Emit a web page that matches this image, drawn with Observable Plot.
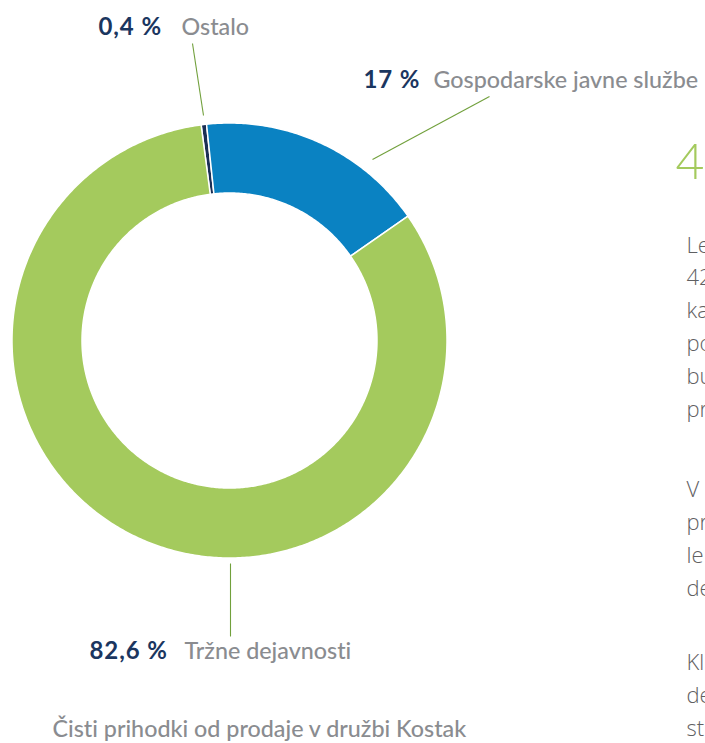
<!DOCTYPE html>
<html><head><meta charset="utf-8">
<script src="https://cdn.jsdelivr.net/npm/d3@7"></script>
<script src="https://cdn.jsdelivr.net/npm/@observablehq/plot@0.6"></script>
<style>html,body{margin:0;padding:0;background:#fff;overflow:hidden} svg text{font-variant-ligatures:none;font-feature-settings:"liga" 0,"clig" 0}</style>
</head><body><div id="chart"></div>
<script>
// ---- data ----
const categories = ["Ostalo", "Gospodarske javne službe", "Tržne dejavnosti"];
const shares = [0.4, 17, 82.6];
const shareLabels = ["0,4 %", "17 %", "82,6 %"];
const caption = "Čisti prihodki od prodaje v družbi Kostak";
const sideHeading = "4";
const sideLines = ["Le", "42", "ka", "po", "bu", "pr", "V", "pr", "le", "de", "Kl", "de", "st"];

// ---- styling / layout ----
const sliceColors = ["#1b2f55", "#0a82c2", "#a4ca5d"];
const W = 705, H = 743;
const cx = 229, cy = 340, rOuter = 217.5, rInner = 147.5;
const startDeg = -7.5;
const labelLayout = [
  {numX: 98, nameX: 181, y: 27, l: [192, 43, 203, 115]},
  {numX: 363, nameX: 433, y: 80, l: [489, 96, 372, 159]},
  {numX: 89, nameX: 184, y: 651, l: [230, 563, 230, 636]}
];
const sideY = [245, 277, 310, 343, 376, 409, 489, 522, 555, 588, 662, 695, 728];

const pie = d3.pie().sort(null).value(d => d.value)
  .startAngle(startDeg * Math.PI / 180).endAngle(startDeg * Math.PI / 180 + 2 * Math.PI);
const arcs = pie(categories.map((c, i) => ({name: c, value: shares[i]})));
const pts = [];
for (const a of arcs) {
  const n = Math.max(4, Math.ceil((a.endAngle - a.startAngle) / 0.01));
  const ring = [];
  for (let k = 0; k <= n; k++) {
    const t = a.startAngle + (a.endAngle - a.startAngle) * k / n;
    ring.push([cx + rOuter * Math.sin(t), cy - rOuter * Math.cos(t)]);
  }
  for (let k = n; k >= 0; k--) {
    const t = a.startAngle + (a.endAngle - a.startAngle) * k / n;
    ring.push([cx + rInner * Math.sin(t), cy - rInner * Math.cos(t)]);
  }
  ring.push(ring[0]);
  for (const p of ring) pts.push({name: a.data.name, x: p[0], y: p[1]});
}
const labels = categories.map((c, i) => ({name: c, num: shareLabels[i], ...labelLayout[i]}));
const side = sideLines.map((t, i) => ({t, y: sideY[i]}));

const font = "Lato, 'Noto Sans', sans-serif";
const chart = Plot.plot({
  width: W, height: H, margin: 0,
  style: {fontFamily: font, background: "#fff"},
  x: {domain: [0, W], range: [0, W], axis: null},
  y: {domain: [0, H], range: [0, H], axis: null},
  color: {domain: categories, range: sliceColors},
  marks: [
    Plot.line(pts, {x: "x", y: "y", z: "name", fill: "name", stroke: "white", strokeWidth: 1.5, curve: "linear"}),
    Plot.link(labels, {x1: d => d.l[0], y1: d => d.l[1], x2: d => d.l[2], y2: d => d.l[3], stroke: "#71a03c", strokeWidth: 1.1}),
    Plot.text(labels, {x: "numX", y: "y", text: "num", textAnchor: "start", fill: "#1b365f", fontSize: 24, fontWeight: 700, className: "num"}),
    Plot.text(labels, {x: "nameX", y: "y", text: "name", textAnchor: "start", fill: "#8a8c90", fontSize: 23.3, fontWeight: 500}),
    Plot.text([caption], {x: 52, y: 729, text: d => d, textAnchor: "start", fill: "#8a8c90", fontSize: 23.3, fontWeight: 500}),
    Plot.text([sideHeading], {x: 675, y: 162, text: d => d, textAnchor: "start", fill: "#a4ca5d", fontSize: 50, fontWeight: 300}),
    Plot.text(side, {x: 686, y: "y", text: "t", textAnchor: "start", fill: "#5f6062", fontSize: 22, fontWeight: 300, fontFamily: "'Open Sans', Lato, sans-serif"})
  ]
});
chart.querySelectorAll("g.num text").forEach(t => t.setAttribute("letter-spacing", "0.9"));
document.getElementById("chart").appendChild(chart);
</script></body></html>
